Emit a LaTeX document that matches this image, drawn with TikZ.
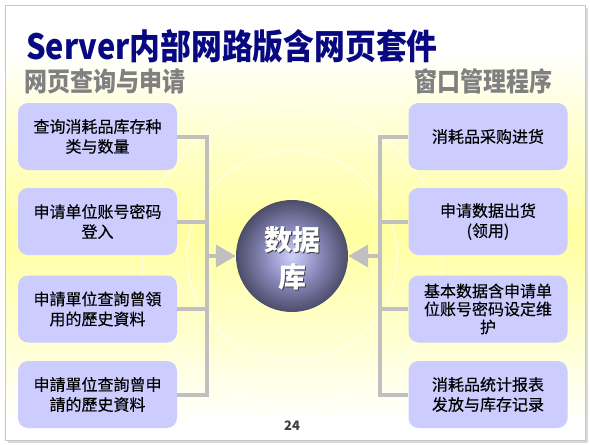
\documentclass[tikz,border=0pt]{standalone}
\usepackage{fontspec}
\setmainfont{Noto Sans CJK SC}
\newfontfamily\boxfont[FakeBold=0.35]{Noto Sans CJK SC}
\usepackage{graphicx}
\usetikzlibrary{arrows.meta}

\definecolor{titleblue}{RGB}{8,8,128}
\definecolor{subgray}{RGB}{128,128,128}
\definecolor{boxfill}{RGB}{204,204,255}
\definecolor{conngray}{RGB}{192,192,192}
\definecolor{bgyel}{RGB}{255,255,160}
\definecolor{sphin}{RGB}{208,208,252}
\definecolor{sphmid}{RGB}{140,140,190}
\definecolor{sphout}{RGB}{76,76,106}

\pgfdeclareverticalshading{slidebg}{100bp}{color(0bp)=(white); color(27bp)=(white); color(37bp)=(bgyel!50!white); color(49bp)=(bgyel); color(62bp)=(bgyel!40!white); color(70bp)=(white); color(100bp)=(white)}
\pgfdeclareradialshading{sphere}{\pgfpoint{0bp}{0bp}}{color(0bp)=(sphin); color(12bp)=(sphmid); color(25bp)=(sphout); color(50bp)=(sphout)}

\begin{document}
\begin{tikzpicture}[
  x=1pt, y=-1pt,
  box/.style={fill=boxfill, rounded corners=10pt, minimum width=159pt, minimum height=67pt, inner sep=0pt, align=center, font=\boxfont\fontsize{16}{20}\selectfont, text=black},
  conn/.style={draw=conngray, line width=4pt},
  arr/.style={conn, -{Triangle[length=20pt,width=22pt]}},
  headtext/.style={inner sep=0pt, text=subgray, font=\fontsize{23}{23}\selectfont\bfseries},
  dbtext/.style={align=center, inner sep=0pt, font=\fontsize{28}{37}\selectfont\bfseries}
]
\useasboundingbox (0,0) rectangle (590,445);
% slide
\fill[gray!30] (8,8) rectangle (588,443);
\shade[shading=slidebg] (5,5) rectangle (585,440);
\draw[gray!45, line width=0.6pt] (5,5) rectangle (585,440);

% faint rings
\coordinate (dbc) at (292,256);
\draw[white, line width=1.3pt, opacity=0.6] (dbc) circle[radius=105pt];
\draw[white, line width=1.3pt, opacity=0.6] (dbc) circle[radius=150pt];

% titles
\node[anchor=west, inner sep=0pt, text=titleblue, font=\fontsize{30.8}{31}\selectfont\bfseries] (title) at (26,46) {\scalebox{1}[1.13]{Server内部网路版含网页套件}};
\node[headtext, anchor=west] (lhead) at (24,81) {\scalebox{1}[1.15]{网页查询与申请}};
\node[headtext, anchor=east] (rhead) at (553,81) {\scalebox{1}[1.15]{窗口管理程序}};

% left boxes
\node[box] (l1) at (97.5,136.5) {查询消耗品库存种\\类与数量};
\node[box] (l2) at (97.5,221.5) {申请单位账号密码\\登入};
\node[box] (l3) at (97.5,309) {申請單位查詢曾領\\用的歷史資料};
\node[box] (l4) at (97.5,394.5) {申請單位查詢曾申\\請的歷史資料};

% right boxes
\node[box] (r1) at (488,136.5) {消耗品采购进货};
\node[box] (r2) at (488,221.5) {申请数据出货\\(领用)};
\node[box, font=\boxfont\fontsize{16}{18}\selectfont] (r3) at (488,309) {基本数据含申请单\\位账号密码设定维\\护};
\node[box] (r4) at (488,394.5) {消耗品统计报表\\发放与库存记录};

% database sphere
\node[circle, minimum size=112pt, inner sep=0pt, shading=sphere] (db) at (dbc) {};
\node[dbtext, text=black!75] (dbshadow) at (293.5,259.5) {数据\\库};
\node[dbtext, text=white] (dbtxt) at (292,258) {数据\\库};

% connectors
\coordinate (lx) at (207,256);
\coordinate (rx) at (380,256);
\draw[conn] (l1.east) -- (l1.east -| lx) -- (l4.east -| lx) -- (l4.east);
\draw[conn] (l2.east) -- (l2.east -| lx);
\draw[conn] (l3.east) -- (l3.east -| lx);
\draw[arr] (lx) -- (db.west);
\draw[conn] (r1.west) -- (r1.west -| rx) -- (r4.west -| rx) -- (r4.west);
\draw[conn] (r2.west) -- (r2.west -| rx);
\draw[conn] (r3.west) -- (r3.west -| rx);
\draw[arr] (rx) -- (db.east);

% page number
\node[inner sep=0pt, text=black!75, font=\fontsize{13}{13}\selectfont\bfseries] (pg) at (292,426) {24};
\end{tikzpicture}
\end{document}
